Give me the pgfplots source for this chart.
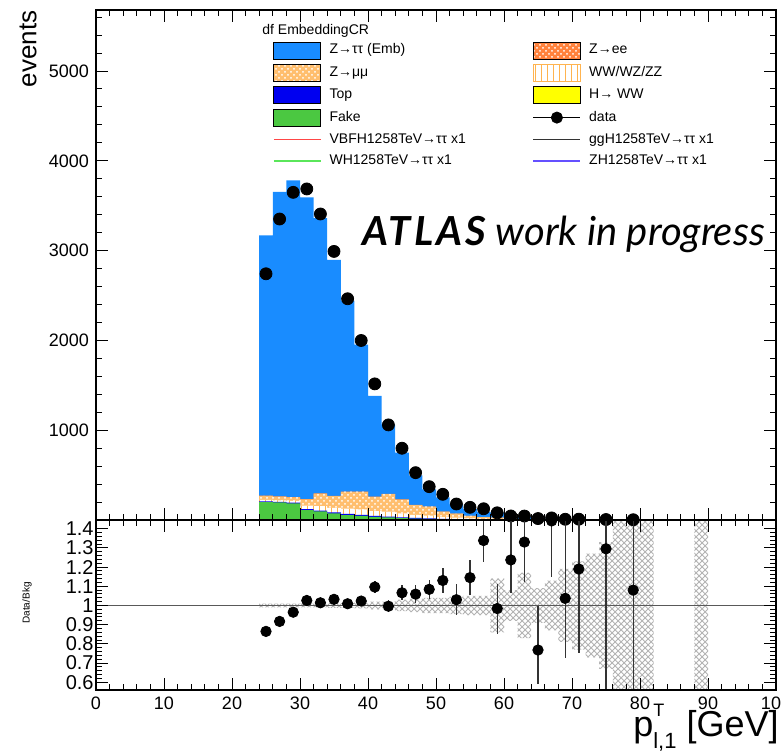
\documentclass[border=0pt]{standalone}
\usepackage{fontspec}
\setmainfont{Liberation Sans}
\newfontfamily\atlasfont{Lato}
\usepackage{amsmath}
\usepackage{pgfplots}
\usepackage{pgfplotstable}
\pgfplotsset{compat=1.18}
\usetikzlibrary{patterns}
\usepgfplotslibrary{fillbetween}

\definecolor{ztt}{RGB}{25,140,255}
\definecolor{zee}{RGB}{255,130,60}
\definecolor{zmm}{RGB}{255,190,110}
\definecolor{wwc}{RGB}{255,180,80}
\definecolor{topc}{RGB}{0,0,240}
\definecolor{hww}{RGB}{255,255,0}
\definecolor{fakec}{RGB}{75,200,65}
\definecolor{vbfc}{RGB}{255,70,70}
\definecolor{whc}{RGB}{90,230,90}
\definecolor{zhc}{RGB}{100,80,255}

\pgfplotsset{
  boxleg/.style={legend image code/.code={\path[##1] (0pt,-4.25pt) rectangle (23.5pt,4.25pt);}},
  lineleg/.style={legend image code/.code={\draw[##1] (0pt,0pt) -- (23.5pt,0pt);}},
  dataleg/.style={legend image code/.code={\draw[black, line width=0.6pt] (0pt,0pt) -- (23.5pt,0pt); \fill[black] (11.75pt,0pt) circle (2.8pt);}},
}

% bin left edges; stacked background components
\pgfplotstableread{
x  fake top ww zmm zee ztt
24 200 8 15 45 2 2900
26 195 8 15 42 2 3393
28 185 8 20 40 2 3526
30 110 10 40 70 2 3362
32 95 10 50 140 2 3064
34 75 10 50 130 3 2630
36 55 12 60 185 3 2127
38 45 12 60 195 3 1639
40 35 10 55 158 2 1123
42 28 10 55 195 2 773
44 22 8 45 153 2 520
46 15 8 35 108 1 331
48 12 6 30 100 1 193
50 8 5 20 60 0 160
52 6 4 15 45 0 103
54 4 3 10 30 0 76
56 3 2 8 20 0 60
58 2 2 6 15 0 56
60 1 1 4 8 0 22
62 1 1 3 6 0 22
64 0 1 2 5 0 13
66 0 0 2 4 0 10
68 0 0 1 2 0 5
70 0 0 1 2 0 5
72 0 0 1 1 0 3
74 0 0 0 1 0 3
76 0 0 0 1 0 2
78 0 0 0 1 0 2
80 0 0 0 0 0 2
82 0 0 0 0 0 0
84 0 0 0 0 0 0
86 0 0 0 0 0 0
88 0 0 0 0 0 1
90 0 0 0 0 0 0
}\stacktab

\pgfplotstableread{
x d
25 2742
27 3352
29 3649
31 3687
33 3408
35 2991
37 2464
39 1999
41 1516
43 1059
45 799
47 527
49 371
51 286
53 178
55 141
57 125
59 80
61 45
63 44
65 16
67 23
69 8
71 9
75 5
79 3
}\datatab

\pgfplotstableread{
x r ep em
25 0.865 0.02 0.02
27 0.917 0.02 0.02
29 0.965 0.02 0.02
31 1.026 0.02 0.02
33 1.014 0.02 0.02
35 1.032 0.02 0.02
37 1.009 0.022 0.022
39 1.023 0.025 0.025
41 1.096 0.03 0.03
43 0.996 0.03 0.03
45 1.066 0.04 0.04
47 1.059 0.045 0.045
49 1.084 0.05 0.05
51 1.13 0.065 0.065
53 1.03 0.08 0.08
55 1.145 0.09 0.09
57 1.338 0.11 0.11
59 0.984 0.13 0.13
61 1.237 0.25 0.17
63 1.33 0.25 0.21
65 0.768 0.23 0.175
67 1.44 0.35 0.29
69 1.037 0.45 0.31
71 1.19 0.4 0.44
75 1.295 0.8 0.8
79 1.08 0.8 0.8
}\ratiotab

\pgfplotstableread{
x h
24 0.01
26 0.01
28 0.01
30 0.01
32 0.01
34 0.012
36 0.012
38 0.015
40 0.02
42 0.02
44 0.03
46 0.035
48 0.04
50 0.04
52 0.045
54 0.05
56 0.05
58 0.14
60 0.08
62 0.17
64 0.09
66 0.13
68 0.19
70 0.23
72 0.27
74 0.33
76 0.6
78 0.6
80 0.6
82 0
84 0
86 0
88 0.6
90 0
}\bandtab

\begin{document}
\begin{tikzpicture}

\begin{axis}[
  at={(48pt,116.5pt)}, anchor=south west, scale only axis,
  width=340pt, height=255pt,
  xmin=0, xmax=100, ymin=0, ymax=5680,
  xtick={0,10,...,100}, minor x tick num=4, xticklabels={},
  ytick={1000,2000,3000,4000,5000}, minor ytick={200,400,...,5600},
  scaled y ticks=false,
  yticklabel style={font=\fontsize{9}{10}\selectfont, /pgf/number format/1000 sep={}, /pgf/number format/assume math mode=true},
  axis on top, axis line style={line width=0.9pt},
  major tick length=6pt, minor tick length=3pt,
  tick style={black, line width=0.5pt},
  legend style={at={(0.2603,0.9382)}, anchor=north west, draw=none, fill=none,
    inner sep=0pt, outer sep=0pt, legend columns=2,
    font=\fontsize{7}{8}\selectfont, row sep=2.3pt,
    /tikz/every odd column/.append style={column sep=4pt},
    nodes={inner sep=0pt, anchor=west, text height=6pt, text depth=2.5pt}},
  legend cell align=left,
]
% stacked backgrounds (cumulative, drawn from top down)
\addplot[const plot, fill=ztt, draw=none, forget plot]
  table[x=x, y expr=\thisrow{fake}+\thisrow{top}+\thisrow{ww}+\thisrow{zmm}+\thisrow{zee}+\thisrow{ztt}]{\stacktab} \closedcycle;
\addplot[const plot, fill=zee, draw=none, forget plot, postaction={pattern=crosshatch dots, pattern color=white}]
  table[x=x, y expr=\thisrow{fake}+\thisrow{top}+\thisrow{ww}+\thisrow{zmm}+\thisrow{zee}]{\stacktab} \closedcycle;
\addplot[const plot, fill=zmm, draw=none, forget plot, postaction={pattern=crosshatch dots, pattern color=white}]
  table[x=x, y expr=\thisrow{fake}+\thisrow{top}+\thisrow{ww}+\thisrow{zmm}]{\stacktab} \closedcycle;
\addplot[const plot, fill=white, draw=none, forget plot, postaction={pattern=vertical lines, pattern color=wwc}]
  table[x=x, y expr=\thisrow{fake}+\thisrow{top}+\thisrow{ww}]{\stacktab} \closedcycle;
\addplot[const plot, fill=topc, draw=none, forget plot]
  table[x=x, y expr=\thisrow{fake}+\thisrow{top}]{\stacktab} \closedcycle;
\addplot[const plot, fill=fakec, draw=none, forget plot]
  table[x=x, y=fake]{\stacktab} \closedcycle;
% data
\addplot[only marks, mark=*, mark size=3pt, black, forget plot] table[x=x, y=d]{\datatab};

% legend
\addlegendimage{boxleg, fill=ztt}
\addlegendentry{\makebox[101.5pt][l]{Z→ττ (Emb)}}
\addlegendimage{boxleg, fill=zee, postaction={pattern=crosshatch dots, pattern color=white}}
\addlegendentry{Z→ee}
\addlegendimage{boxleg, fill=zmm, postaction={pattern=crosshatch dots, pattern color=white}}
\addlegendentry{\makebox[101.5pt][l]{Z→μμ}}
\addlegendimage{boxleg, draw=wwc, fill=white, postaction={pattern=vertical lines, pattern color=wwc}}
\addlegendentry{WW/WZ/ZZ}
\addlegendimage{boxleg, fill=topc}
\addlegendentry{\makebox[101.5pt][l]{Top}}
\addlegendimage{boxleg, fill=hww}
\addlegendentry{H→ WW}
\addlegendimage{boxleg, fill=fakec}
\addlegendentry{\makebox[101.5pt][l]{Fake}}
\addlegendimage{dataleg}
\addlegendentry{data}
\addlegendimage{lineleg, draw=vbfc, line width=0.8pt}
\addlegendentry{\makebox[101.5pt][l]{VBFH1258TeV→ττ x1}}
\addlegendimage{lineleg, draw=black!80, line width=0.8pt}
\addlegendentry{ggH1258TeV→ττ x1}
\addlegendimage{lineleg, draw=whc, line width=0.8pt}
\addlegendentry{\makebox[101.5pt][l]{WH1258TeV→ττ x1}}
\addlegendimage{lineleg, draw=zhc, line width=0.8pt}
\addlegendentry{ZH1258TeV→ττ x1}
\end{axis}

\begin{axis}[
  at={(48pt,31.5pt)}, anchor=south west, scale only axis,
  width=340pt, height=85pt,
  xmin=0, xmax=100, ymin=0.56, ymax=1.445,
  xtick={0,10,...,100}, minor x tick num=4,
  ytick={0.6,0.7,0.8,0.9,1.0,1.1,1.2,1.3,1.4},
  yticklabels={0.6,0.7,0.8,0.9,1,1.1,1.2,1.3,1.4},
  minor y tick num=4,
  xticklabel style={font=\fontsize{9}{10}\selectfont, /pgf/number format/assume math mode=true},
  yticklabel style={font=\fontsize{10}{11}\selectfont, inner xsep=1pt},
  axis on top, axis line style={line width=0.9pt},
  major tick length=6pt, minor tick length=3pt,
  tick style={black, line width=0.5pt},
]
\addplot[name path=bu, draw=none, const plot, forget plot] table[x=x, y expr=1+\thisrow{h}]{\bandtab};
\addplot[name path=bl, draw=none, const plot, forget plot] table[x=x, y expr=1-\thisrow{h}]{\bandtab};
\addplot[pattern=crosshatch, pattern color=gray!60, forget plot] fill between[of=bu and bl];
\addplot[gray!70!black, line width=0.7pt, forget plot] coordinates {(0,1) (100,1)};
\addplot[only marks, mark=*, mark size=2.6pt, black, forget plot,
  error bars/.cd, y dir=both, y explicit, error mark=none,
  error bar style={black!80, line width=0.7pt}]
  table[x=x, y=r, y error plus=ep, y error minus=em]{\ratiotab};
\end{axis}

% texts
\node[anchor=west, inner sep=0pt, font=\fontsize{7}{8}\selectfont] at (131pt,361pt) {df EmbeddingCR};
\node[anchor=base west, inner sep=0pt] at (181pt,253.5pt)
  {\atlasfont\fontsize{20}{22}\selectfont\itshape{\bfseries\addfontfeature{LetterSpace=8}ATLAS} work in progress};
\node[rotate=90, inner sep=0pt, font=\fontsize{13}{14}\selectfont] at (14pt,352pt) {events};
\node[rotate=90, inner sep=0pt, font=\fontsize{5}{6}\selectfont] at (13.5pt,75pt) {Data/Bkg};
\node[anchor=base east, inner sep=0pt] at (389.5pt,8pt)
  {\fontsize{18}{21}\selectfont p\rlap{\raisebox{10pt}{\fontsize{9}{10}\selectfont T}}\raisebox{-6pt}{\fontsize{11}{12}\selectfont l,1} [GeV]};
\pgfresetboundingbox
\path[use as bounding box] (0,0) rectangle (390.5pt,376.5pt);
\end{tikzpicture}
\end{document}
